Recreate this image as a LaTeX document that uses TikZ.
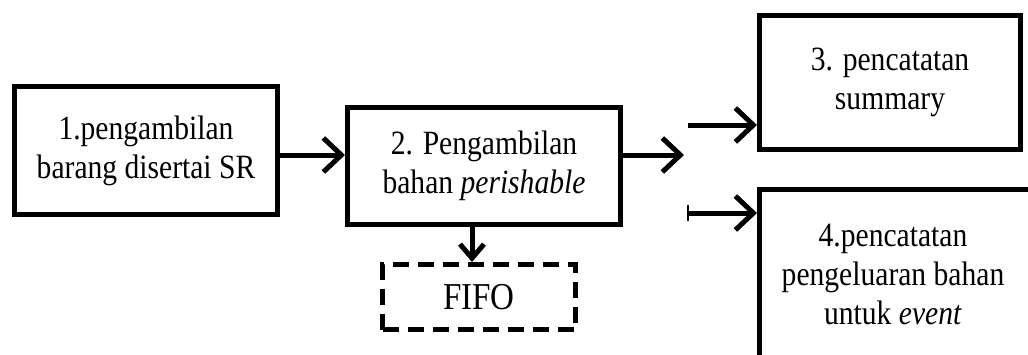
\documentclass[tikz,border=0pt]{standalone}
\usepackage{fontspec}
\setmainfont{Liberation Serif}[FakeStretch=0.87]
\usetikzlibrary{arrows.meta, positioning}

\tikzset{
	blok/.style={draw, line width=5pt, align=center, inner sep=0pt},
	putus/.style={blok, dash pattern=on 16pt off 9pt},
	panah/.style={line width=5pt, -{Straight Barb[length=18pt, width=34pt]}},
	panahkecil/.style={line width=5pt, -{Straight Barb[length=14pt, width=24pt]}},
}

\begin{document}
\begin{tikzpicture}[x=1pt, y=-1pt, font=\fontsize{34}{39}\selectfont]
		\clip (0,0) rectangle (1028,354);
		\node[blok, minimum width=263pt, minimum height=128pt] (ambil) at (146,150.5) {1.pengambilan\\barang disertai SR};
		\node[blok, minimum width=273pt, minimum height=117pt] (bahan) at (484,166) {2. Pengambilan\\bahan \textit{perishable}};
		\node[putus, minimum width=193pt, minimum height=65pt, font=\fontsize{38}{42}\selectfont] (fifo) at (479,297) {FIFO};
		\node[blok, minimum width=261pt, minimum height=134pt] (summary) at (890,82.5) {3. pencatatan\\summary};
		% kotak 4 terpotong di tepi kanan dan bawah
		\node[blok, minimum width=291pt, minimum height=191pt] (event) at (905,285) {};
		\node[align=center] (teksevent) at (893,274) {4.pencatatan\\pengeluaran bahan\\untuk \textit{event}};
		\coordinate (cabang) at (684,155);
		\coordinate (ke3) at (688,125);
		\coordinate (ke4) at (688,213);
		\draw[panah] (ambil.east |- cabang) -- (bahan.west |- cabang);
		\draw[panah] (bahan.east |- cabang) -- (cabang);
		\draw[panahkecil] ([xshift=-12pt]bahan.south) -- ([xshift=-12pt]bahan.south |- fifo.north);
		\draw[panah] (ke3) -- (ke3 -| summary.west);
		\draw[panah] (ke4) -- (ke4 -| event.west);
		\draw[line width=2pt] ([yshift=8pt]ke4) -- ([yshift=-8pt]ke4);
	\end{tikzpicture}
\end{document}
